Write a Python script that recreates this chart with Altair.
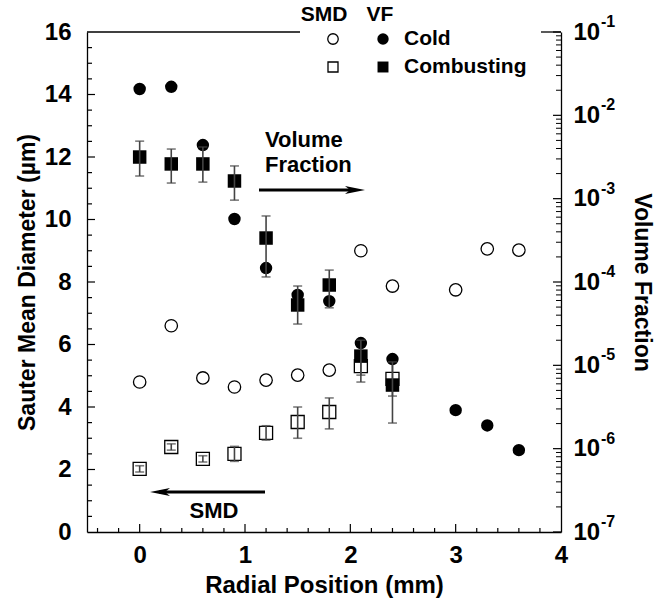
import altair as alt
import pandas as pd

# ---------------- data ----------------
radial = [0, 0.3, 0.6, 0.9, 1.2, 1.5, 1.8, 2.1, 2.4, 3.0, 3.3, 3.6]
smd_cold = [4.8, 6.6, 4.93, 4.64, 4.86, 5.02, 5.18, 9.0, 7.87, 7.75, 9.06, 9.02]
vf_cold = [2.07e-2, 2.2e-2, 4.4e-3, 5.7e-4, 1.47e-4, 7.0e-5, 5.9e-5, 1.85e-5,
           1.19e-5, 2.9e-6, 1.9e-6, 9.6e-7]

radial_comb = [0, 0.3, 0.6, 0.9, 1.2, 1.5, 1.8, 2.1, 2.4]
smd_comb = [2.02, 2.72, 2.34, 2.5, 3.17, 3.52, 3.84, 5.31, 4.9]
smd_comb_lo = [1.92, 2.62, 2.24, 2.26, 2.94, 3.0, 3.3, 5.02, 4.35]
smd_comb_hi = [2.12, 2.82, 2.44, 2.74, 3.4, 4.0, 4.29, 5.66, 5.5]
vf_comb = [3.16e-3, 2.61e-3, 2.61e-3, 1.63e-3, 3.37e-4, 5.3e-5, 9.2e-5, 1.29e-5, 5.8e-6]
vf_comb_lo = [1.87e-3, 1.54e-3, 1.58e-3, 9.6e-4, 1.15e-4, 3.13e-5, 4.9e-5, 6.3e-6, 2.03e-6]
vf_comb_hi = [4.9e-3, 3.94e-3, 4.17e-3, 2.47e-3, 6.2e-4, 8.95e-5, 1.39e-4, 2.0e-5, 1.1e-5]

x_major = [0, 1, 2, 3]
x_minor = [-0.4, -0.2, 0.2, 0.4, 0.6, 0.8, 1.2, 1.4, 1.6, 1.8, 2.2, 2.4, 2.6, 2.8,
           3.2, 3.4, 3.6, 3.8]
x_labels = [0, 1, 2, 3, 4]
smd_major = [2, 4, 6, 8, 10, 12, 14]
smd_minor = [0.5, 1, 1.5, 2.5, 3, 3.5, 4.5, 5, 5.5, 6.5, 7, 7.5, 8.5, 9, 9.5,
             10.5, 11, 11.5, 12.5, 13, 13.5, 14.5, 15, 15.5]
smd_labels = [0, 2, 4, 6, 8, 10, 12, 14, 16]
vf_exponents = [-7, -6, -5, -4, -3, -2, -1]
vf_minor_mult = [2, 3, 4, 5, 6, 7, 8, 9]

# ---------------- layout ----------------
W, H = 474, 500
FONT = "Liberation Sans"
ERR = "#444444"
TICKFS = 24

xs = alt.Scale(domain=[-0.5, 4], nice=False, zero=False)
ys = alt.Scale(domain=[0, 16], nice=False, zero=False)
yv = alt.Scale(type="log", domain=[1e-7, 1e-1], nice=False)

cold_df = pd.DataFrame({"r": radial, "smd": smd_cold, "vf": vf_cold})
comb_df = pd.DataFrame({
    "r": radial_comb, "smd": smd_comb, "smd_lo": smd_comb_lo, "smd_hi": smd_comb_hi,
    "vf": vf_comb, "vf_lo": vf_comb_lo, "vf_hi": vf_comb_hi,
})

x_axis = alt.Axis(
    values=x_labels, ticks=False, grid=False, domainColor="black", domainWidth=1.3,
    labelFont=FONT, labelFontSize=TICKFS, labelFontWeight="bold", labelColor="black",
    labelPadding=11, labelFlush=False, labelOverlap=False,
    title="Radial Position (mm)", titleFont=FONT, titleFontSize=24,
    titleFontWeight="bold", titleColor="black", titlePadding=6)
ys_axis = alt.Axis(
    orient="left", values=smd_labels, ticks=False, grid=False, domainColor="black",
    domainWidth=1.3, labelFont=FONT, labelFontSize=TICKFS, labelFontWeight="bold",
    labelColor="black", labelPadding=16, labelOverlap=False,
    title="Sauter Mean Diameter (\u00b5m)", titleFont=FONT, titleFontSize=23,
    titleFontWeight="bold", titleColor="black", titlePadding=5)
yv_axis = alt.Axis(
    orient="right", values=[10.0 ** e for e in vf_exponents], labelExpr="'10'",
    ticks=False, grid=False, domainColor="black", domainWidth=1.3,
    labelFont=FONT, labelFontSize=TICKFS, labelFontWeight="bold", labelColor="black",
    labelPadding=12, labelOverlap=False, labelFlush=False,
    title="Volume Fraction", titleFont=FONT, titleFontSize=23,
    titleFontWeight="bold", titleColor="black", titlePadding=30)


def X(field="r"):
    return alt.X(f"{field}:Q", scale=xs, axis=x_axis)


def YS(field="smd"):
    return alt.Y(f"{field}:Q", scale=ys, axis=ys_axis)


def YV(field="vf"):
    return alt.Y(f"{field}:Q", scale=yv, axis=yv_axis)


one = pd.DataFrame({"a": [0]})

# ---------------- SMD group (left axis) ----------------
smd_cold_pts = alt.Chart(cold_df).mark_point(
    shape="circle", filled=True, fill="white", stroke="black", strokeWidth=1.3,
    size=154, opacity=1).encode(x=X(), y=YS())
smd_comb_pts = alt.Chart(comb_df).mark_point(
    shape="square", filled=True, fill="white", stroke="black", strokeWidth=1.3,
    size=170, opacity=1).encode(x=X(), y=YS())
smd_err = alt.Chart(comb_df).mark_errorbar(
    ticks=True, size=9, thickness=1.6, color=ERR).encode(
    x=X(), y=YS("smd_lo"), y2="smd_hi:Q")

ltick_major = alt.Chart(pd.DataFrame({"smd": smd_major})).mark_rule(
    color="black", strokeWidth=1.2).encode(y=YS(), x=alt.value(0), x2=alt.value(8))
ltick_minor = alt.Chart(pd.DataFrame({"smd": smd_minor})).mark_rule(
    color="black", strokeWidth=1.2).encode(y=YS(), x=alt.value(0), x2=alt.value(5))

smd_arrow = alt.Chart(one).mark_rule(color="black", strokeWidth=3).encode(
    x=alt.value(72), x2=alt.value(178), y=alt.value(460))
smd_head = alt.Chart(one).mark_point(
    shape="M -1 0 L 1 -0.4 L 0.5 0 L 1 0.4 Z", filled=True, color="black",
    size=400, opacity=1).encode(x=alt.value(73), y=alt.value(460))
smd_text = alt.Chart(one).mark_text(
    text="SMD", font=FONT, fontSize=22, fontWeight="bold", color="black",
    align="center", baseline="alphabetic").encode(x=alt.value(127), y=alt.value(486))

smd_group = alt.layer(smd_cold_pts, smd_comb_pts, smd_err, ltick_major, ltick_minor,
                      smd_arrow, smd_head, smd_text)

# ---------------- VF group (right axis) ----------------
vf_cold_pts = alt.Chart(cold_df).mark_point(
    shape="circle", filled=True, color="black", size=154, opacity=1).encode(
    x=X(), y=YV())
vf_comb_pts = alt.Chart(comb_df).mark_point(
    shape="square", filled=True, color="black", size=182, opacity=1).encode(x=X(), y=YV())
vf_err = alt.Chart(comb_df).mark_errorbar(
    ticks=True, size=9, thickness=1.6, color=ERR).encode(
    x=X(), y=YV("vf_lo"), y2="vf_hi:Q")

rtick_major = alt.Chart(pd.DataFrame({"vf": [10.0 ** e for e in vf_exponents]})).mark_rule(
    color="black", strokeWidth=1.2).encode(y=YV(), x=alt.value(W), x2=alt.value(W - 8))
rtick_minor = alt.Chart(pd.DataFrame(
    {"vf": [m * 10.0 ** e for e in vf_exponents[:-1] for m in vf_minor_mult]})).mark_rule(
    color="black", strokeWidth=1.0).encode(y=YV(), x=alt.value(W), x2=alt.value(W - 5))

sup = alt.Chart(pd.DataFrame({"vf": [10.0 ** e for e in vf_exponents],
                              "lab": [str(e) for e in vf_exponents]})).mark_text(
    font=FONT, fontSize=16, fontWeight="bold", color="black", align="left",
    baseline="middle", dy=-10).encode(y=YV(), x=alt.value(W + 12 + 27 + 1), text="lab:N")

vf_arrow = alt.Chart(one).mark_rule(color="black", strokeWidth=3).encode(
    x=alt.value(172), x2=alt.value(268), y=alt.value(158))
vf_head = alt.Chart(one).mark_point(
    shape="M 1 0 L -1 -0.4 L -0.5 0 L -1 0.4 Z", filled=True, color="black",
    size=400, opacity=1).encode(x=alt.value(268), y=alt.value(158))
vf_text1 = alt.Chart(one).mark_text(
    text="Volume", font=FONT, fontSize=22, fontWeight="bold", color="black",
    align="left", baseline="alphabetic").encode(x=alt.value(178), y=alt.value(115))
vf_text2 = alt.Chart(one).mark_text(
    text="Fraction", font=FONT, fontSize=22, fontWeight="bold", color="black",
    align="left", baseline="alphabetic").encode(x=alt.value(178), y=alt.value(140))

vf_group = alt.layer(vf_cold_pts, vf_comb_pts, vf_err, rtick_major, rtick_minor, sup,
                     vf_arrow, vf_head, vf_text1, vf_text2)

# ---------------- x ticks, frame, legend ----------------
btick_major = alt.Chart(pd.DataFrame({"r": x_major})).mark_rule(
    color="black", strokeWidth=1.2).encode(x=X(), y=alt.value(H), y2=alt.value(H - 8))
btick_minor = alt.Chart(pd.DataFrame({"r": x_minor})).mark_rule(
    color="black", strokeWidth=1.2).encode(x=X(), y=alt.value(H), y2=alt.value(H - 4))
top_left = alt.Chart(one).mark_rule(color="black", strokeWidth=1.3).encode(
    x=alt.value(0), x2=alt.value(213), y=alt.value(0))
top_right = alt.Chart(one).mark_rule(color="black", strokeWidth=1.3).encode(
    x=alt.value(454), x2=alt.value(W), y=alt.value(0))


def ltext(t, x, y, align="left"):
    return alt.Chart(one).mark_text(
        text=t, font=FONT, fontSize=21, fontWeight="bold", color="black",
        align=align, baseline="middle").encode(x=alt.value(x), y=alt.value(y))


def lsym(shape, filled, x, y, size):
    if filled:
        m = alt.Chart(one).mark_point(shape=shape, filled=True, color="black",
                                      size=size, opacity=1)
    else:
        m = alt.Chart(one).mark_point(shape=shape, filled=True, fill="white",
                                      stroke="black", strokeWidth=1.3, size=size, opacity=1)
    return m.encode(x=alt.value(x), y=alt.value(y))


legend = alt.layer(
    ltext("SMD", 237, -17, "center"), ltext("VF", 293, -17, "center"),
    lsym("circle", False, 246, 7, 110), lsym("circle", True, 296, 7, 130),
    ltext("Cold", 317, 7),
    lsym("square", False, 246, 35, 100), lsym("square", True, 296, 35, 120),
    ltext("Combusting", 317, 35),
)

chart = alt.layer(
    smd_group, vf_group, btick_major, btick_minor, top_left, top_right, legend
).resolve_scale(y="independent").properties(
    width=W, height=H,
    autosize=alt.AutoSizeParams(type="none"),
    padding={"left": 87, "top": 32, "right": 94, "bottom": 71},
    background="white",
).configure_view(stroke=None)

chart.save("out.html", embed_options={"renderer": "svg", "actions": False})
